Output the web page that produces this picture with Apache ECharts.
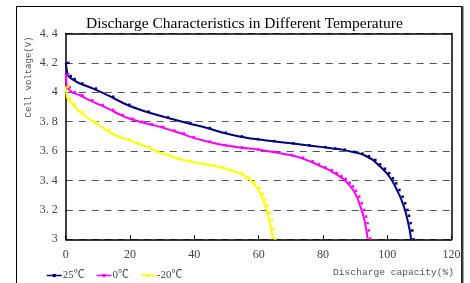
<!DOCTYPE html>
<html>
<head>
<meta charset="utf-8">
<script src="https://cdn.jsdelivr.net/npm/echarts@6/dist/echarts.min.js"></script>
<style>
  html, body { margin: 0; padding: 0; background: #fff; }
  #main { width: 470px; height: 283px; }
</style>
</head>
<body>
<div id="main"></div>
<script>
// series names
var seriesNames = ['25℃', '0℃', '-20℃'];

// 25℃ : discharge capacity (%) / cell voltage (V)
var cap25 = [0, 0.8, 2, 4.4, 8.6, 14, 19, 25, 31, 38, 44, 49, 54, 59, 64, 70, 75, 80, 83, 86, 89, 91.5, 93.5, 95.5, 97, 98.5, 99.8, 101, 102, 103, 104, 104.8, 105.5, 106, 106.5, 107, 107.4];
var volt25 = [4.2, 4.11, 4.09, 4.06, 4.025, 3.97, 3.915, 3.868, 3.83, 3.79, 3.757, 3.725, 3.70, 3.682, 3.668, 3.653, 3.64, 3.627, 3.618, 3.61, 3.595, 3.583, 3.565, 3.54, 3.51, 3.48, 3.45, 3.415, 3.38, 3.335, 3.29, 3.245, 3.20, 3.16, 3.11, 3.06, 3.0];

// 0℃
var cap0 = [0, 0.5, 2, 4.4, 7.5, 10.7, 14, 17, 20, 23, 26, 29.5, 33, 36, 39, 44, 49, 54, 59, 64, 69.7, 73, 76, 78, 80, 82, 83.5, 85, 86.3, 87.5, 88.5, 89.5, 90.5, 91.3, 92, 92.6, 93.1, 93.5, 93.9];
var volt0 = [4.122, 4.035, 4.0, 3.98, 3.945, 3.914, 3.88, 3.846, 3.82, 3.80, 3.783, 3.764, 3.74, 3.72, 3.695, 3.665, 3.641, 3.625, 3.612, 3.595, 3.573, 3.555, 3.53, 3.51, 3.49, 3.47, 3.45, 3.43, 3.41, 3.385, 3.36, 3.33, 3.29, 3.245, 3.20, 3.155, 3.11, 3.06, 3.005];

// -20℃
var capM20 = [0, 0.5, 2, 4.4, 8.6, 12.7, 16, 19, 22, 25.2, 28, 31.4, 34.5, 38, 41.8, 45, 48, 51, 54, 56, 58, 59.5, 60.5, 61.3, 62, 62.7, 63.3, 63.9, 64.4];
var voltM20 = [4.04, 3.96, 3.92, 3.868, 3.80, 3.743, 3.70, 3.68, 3.655, 3.63, 3.60, 3.575, 3.551, 3.532, 3.517, 3.505, 3.49, 3.471, 3.45, 3.425, 3.39, 3.35, 3.31, 3.27, 3.23, 3.18, 3.13, 3.07, 3.005];

var colors = ['#000080', '#ff00ff', '#ffff00'];

function pairs(xs, ys) {
    return xs.map(function (x, i) { return [x, ys[i]]; });
}

var serifFont = '"Liberation Serif", "Noto Sans CJK SC", serif';
var monoFont = '"Liberation Mono", "DejaVu Sans Mono", monospace';

var myChart = echarts.init(document.getElementById('main'));

function makeSeries(name, data, color) {
    return {
        name: name,
        type: 'line',
        data: data,
        smooth: 0.25,
        showSymbol: true,
        symbol: 'rect',
        symbolSize: 2.5,
        symbolOffset: [2.5, 0],
        color: color,
        lineStyle: { width: 2, color: color },
        itemStyle: { color: color },
        xAxisIndex: 0,
        yAxisIndex: 0
    };
}

var option = {
    animation: false,
    backgroundColor: '#fff',
    title: {
        text: 'Discharge Characteristics in Different Temperature',
        left: 81,
        top: 11,
        textStyle: { fontFamily: serifFont, fontSize: 15.5, fontWeight: 'normal', color: '#000' }
    },
    legend: {
        left: 41,
        top: 265,
        itemWidth: 15,
        itemHeight: 4,
        itemGap: 11,
        data: seriesNames,
        lineStyle: { width: 1.5 },
        textStyle: { fontFamily: serifFont, fontSize: 11, color: '#444', padding: [0, 0, 0, -4] }
    },
    grid: { left: 65.7, right: 18.4, top: 33.5, bottom: 43.7 },
    xAxis: [{
        type: 'value',
        min: 0,
        max: 120,
        interval: 20,
        axisLine: { lineStyle: { color: '#000', width: 1.5 } },
        axisTick: { inside: true, length: 4, lineStyle: { color: '#000' } },
        axisLabel: { margin: 10, fontFamily: serifFont, fontSize: 12, color: '#444' },
        splitLine: { show: false }
    }, {
        type: 'value',
        position: 'top',
        min: 0,
        max: 120,
        interval: 20,
        axisLine: { show: true, onZero: false, lineStyle: { color: '#000', width: 1.5 } },
        axisTick: { show: false },
        axisLabel: { show: false },
        splitLine: { show: false }
    }],
    yAxis: [{
        type: 'value',
        min: 3,
        max: 4.4,
        interval: 0.2,
        axisLine: { show: true, lineStyle: { color: '#000', width: 1.5 } },
        axisTick: { show: false },
        axisLabel: {
            margin: 8,
            fontFamily: serifFont,
            fontSize: 12,
            color: '#444',
            formatter: function (v) {
                var r = Math.round(v * 10) / 10;
                if (r === 3 || r === 4) return String(r);
                return r.toFixed(1).replace('.', '. ');
            }
        },
        splitLine: { show: true, lineStyle: { color: '#555', type: [7, 6], width: 1 } }
    }, {
        type: 'value',
        position: 'right',
        min: 3,
        max: 4.4,
        interval: 0.2,
        axisLine: { show: true, onZero: false, lineStyle: { color: '#000', width: 1.5 } },
        axisTick: { show: false },
        axisLabel: { show: false },
        splitLine: { show: false }
    }],
    graphic: [
        {
            type: 'rect',
            shape: { x: 16.5, y: 6.5, width: 445, height: 300 },
            style: { fill: 'none', stroke: '#000', lineWidth: 1 },
            z: 10
        },
        {
            type: 'line',
            shape: { x1: 462.5, y1: 6, x2: 462.5, y2: 290 },
            style: { stroke: '#444', lineWidth: 2 },
            z: 10
        },
        {
            type: 'text',
            x: 29,
            y: 77,
            rotation: Math.PI / 2,
            style: {
                text: 'Cell voltage(V)',
                fontFamily: monoFont,
                fontSize: 9,
                fill: '#555',
                align: 'center',
                verticalAlign: 'middle'
            }
        },
        {
            type: 'text',
            x: 454,
            y: 272,
            style: {
                text: 'Discharge capacity(%)',
                fontFamily: monoFont,
                fontSize: 9.6,
                fill: '#555',
                align: 'right',
                verticalAlign: 'middle'
            }
        }
    ],
    series: [
        makeSeries(seriesNames[0], pairs(cap25, volt25), colors[0]),
        makeSeries(seriesNames[1], pairs(cap0, volt0), colors[1]),
        makeSeries(seriesNames[2], pairs(capM20, voltM20), colors[2])
    ]
};

myChart.setOption(option);
</script>
</body>
</html>
